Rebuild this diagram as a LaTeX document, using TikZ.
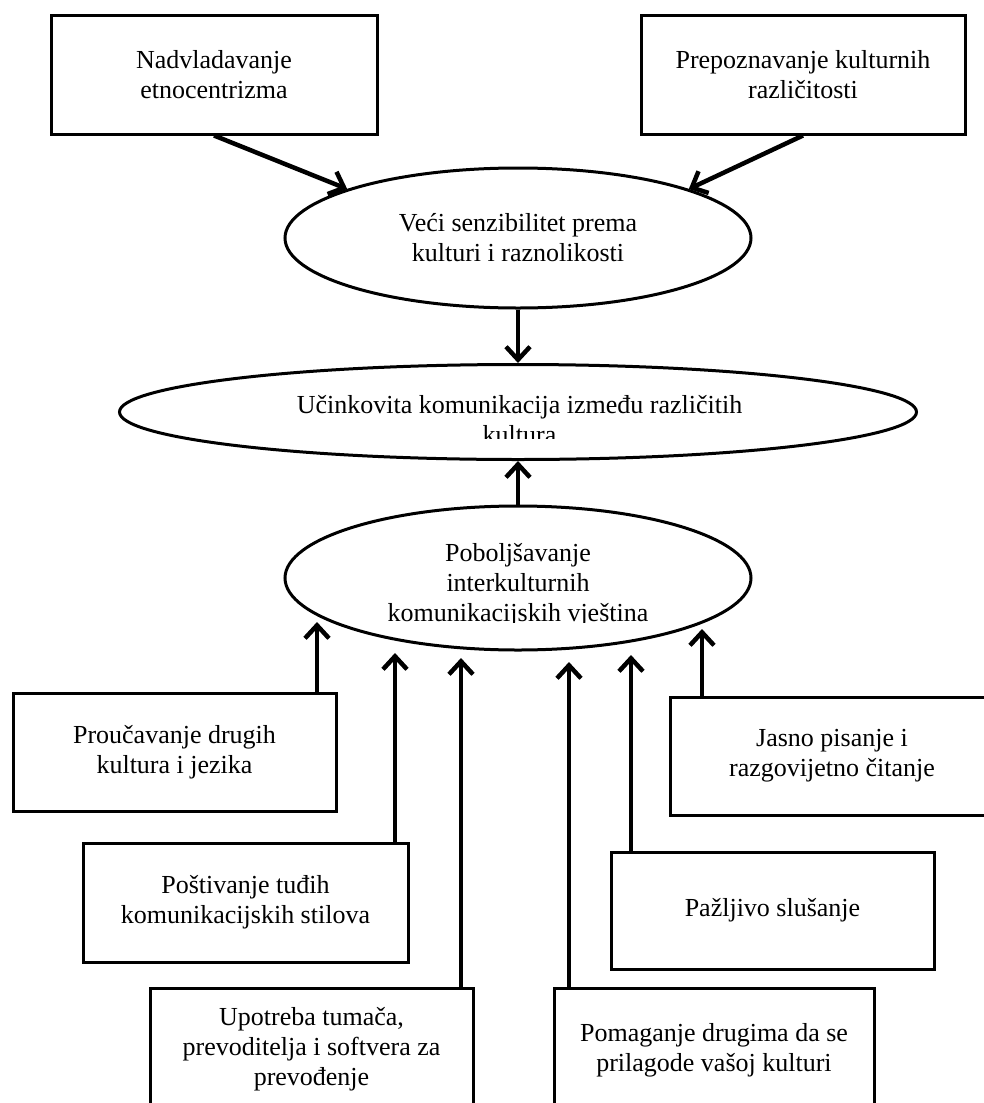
\documentclass[tikz,border=0pt]{standalone}
\usepackage{fontspec}
\setmainfont{Liberation Serif}
\usetikzlibrary{arrows.meta,shapes.geometric,calc}
\begin{document}
\begin{tikzpicture}[x=1pt,y=-1pt,
  txt/.style={inner sep=0pt,align=center,font=\fontsize{26}{30}\selectfont},
  box/.style={txt,draw,line width=3pt,rectangle},
  ell/.style={txt,draw,line width=3pt,ellipse},
  arr/.style={line width=4.5pt,-{Straight Barb[length=13pt,width=24pt]}}]
\clip (0,0) rectangle (984,1103);
\fill[white] (0,0) rectangle (984,1103);
% top boxes
\node[box,minimum width=326pt,minimum height=119pt] (b1) at (214,74.5) {Nadvladavanje\\etnocentrizma};
\node[box,minimum width=324pt,minimum height=119pt] (b2) at (803,74.5) {Prepoznavanje kulturnih\\različitosti};
% ellipses
\node[ell,minimum width=466pt,minimum height=140pt] (e1) at (518,238) {Veći senzibilitet prema\\kulturi i raznolikosti};
\node[ell,minimum width=797pt,minimum height=95pt] (e2) at (518,412) {};
\begin{scope}
  \clip (100,370) rectangle (940,438);
  \node[txt] (e2t) at (519.5,420) {Učinkovita komunikacija između različitih\\kultura};
\end{scope}
\node[ell,minimum width=466pt,minimum height=144pt] (e3) at (518,578) {};
\begin{scope}
  \clip (280,515) rectangle (760,622);
  \node[txt] (e3t) at (518,585) {Poboljšavanje\\interkulturnih\\komunikacijskih vještina};
\end{scope}
% bottom boxes
\node[box,minimum width=323pt,minimum height=118pt] (p1) at (174.5,752) {Proučavanje drugih\\kultura i jezika};
\node[box,minimum width=325pt,minimum height=119pt] (p2) at (245.5,902.5) {Poštivanje tuđih\\komunikacijskih stilova};
\node[box,minimum width=323pt,minimum height=122pt] (p3) at (311.5,1049) {Upotreba tumača,\\prevoditelja i softvera za\\prevođenje};
\node[box,minimum width=320pt,minimum height=124pt] (p4) at (714,1050) {Pomaganje drugima da se\\prilagode vašoj kulturi};
\node[box,minimum width=323pt,minimum height=117pt] (p5) at (772.5,910.5) {Pažljivo slušanje};
\node[box,minimum width=324pt,minimum height=118pt] (p6) at (832,756) {Jasno pisanje i\\razgovijetno čitanje};
% arrow tips
\coordinate (t1) at (317,622);
\coordinate (t2) at (395,653);
\coordinate (t3) at (461,658);
\coordinate (t4) at (569,662);
\coordinate (t5) at (631,655);
\coordinate (t6) at (702,629);
% connectors
\draw[arr] (b1.south) -- (e1.164);
\draw[arr] (b2.south) -- (e1.16);
\draw[arr] (e1.south) -- (e2.north);
\draw[arr] (e3.north) -- (e2.south);
\draw[arr] (p1.north -| t1) -- (t1);
\draw[arr] (p2.north -| t2) -- (t2);
\draw[arr] (p3.north -| t3) -- (t3);
\draw[arr] (p4.north -| t4) -- (t4);
\draw[arr] (p5.north -| t5) -- (t5);
\draw[arr] (p6.north -| t6) -- (t6);
\end{tikzpicture}
\end{document}
